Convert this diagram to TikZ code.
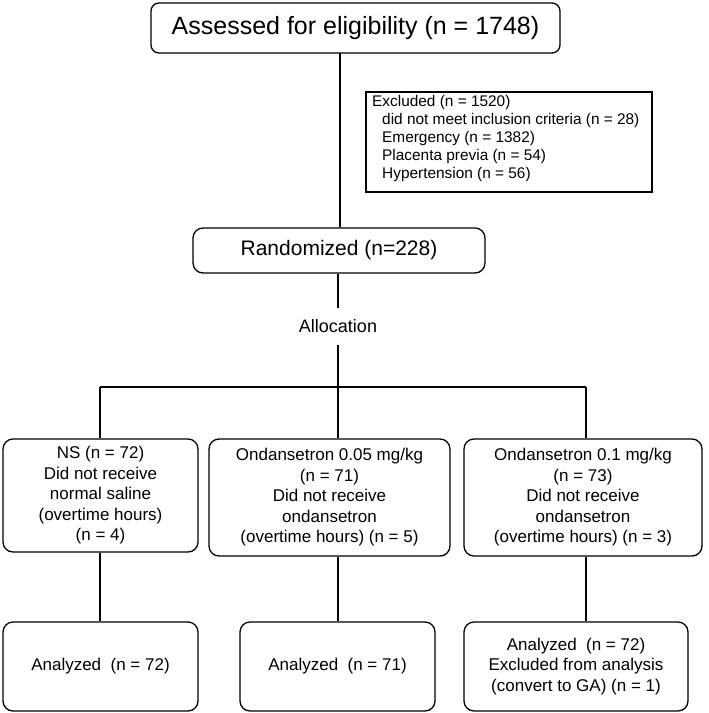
\documentclass[tikz,border=0pt]{standalone}
\usepackage{fontspec}
\setmainfont{Liberation Sans}
\begin{document}
\begin{tikzpicture}[x=1pt,y=-1pt,
  rbox/.style={draw, line width=1.3pt, rounded corners=10pt, align=center, inner sep=0pt},
  ln/.style={line width=1.3pt},
  midtxt/.style={font=\fontsize{17}{20.5}\selectfont}]
\useasboundingbox (0,0) rectangle (709,713);
% top
\node[rbox, rounded corners=8pt, minimum width=409pt, minimum height=50pt, font=\fontsize{25}{30}\selectfont] (top) at (355.5,28) {Assessed for eligibility (n = 1748)};
% excluded
\node[draw, line width=1.3pt, minimum width=286pt, minimum height=100pt, inner sep=0pt] (exc) at (509,142) {};
\node[anchor=north west, inner sep=0pt, align=left, font=\fontsize{15.4}{18}\selectfont] (exctxt) at (372,95) {Excluded (n = 1520)\\
\hspace*{10pt}did not meet inclusion criteria (n = 28)\\
\hspace*{10pt}Emergency (n = 1382)\\
\hspace*{10pt}Placenta previa (n = 54)\\
\hspace*{10pt}Hypertension (n = 56)};
% randomized
\node[rbox, minimum width=292pt, minimum height=45pt, font=\fontsize{21}{25}\selectfont] (rand) at (339,250.5) {Randomized (n=228)};
\coordinate (tl) at (340,53);
\draw[ln] (tl) -- (tl |- rand.north);
% allocation
\node[inner sep=0pt, minimum height=37pt, font=\fontsize{18}{22}\selectfont] (alloc) at (338,326.5) {Allocation};
\coordinate (hm) at (338,387);
\coordinate (hl) at (100,387);
\coordinate (hr) at (586,387);
\draw[ln] (rand.south -| hm) -- (alloc.north);
\draw[ln] (alloc.south) -- (hm);
\draw[ln] (hl) -- (hr);
% middle boxes
\node[rbox, midtxt, minimum width=195pt, minimum height=113pt] (b1) at (100.5,495.5) {NS (n = 72)\\Did not receive\\normal saline\\(overtime hours)\\(n = 4)};
\node[rbox, midtxt, minimum width=241pt, minimum height=117pt] (b2) at (329.5,497.5) {Ondansetron 0.05 mg/kg\\(n = 71)\\Did not receive\\ondansetron\\(overtime hours) (n = 5)};
\node[rbox, midtxt, minimum width=238pt, minimum height=117pt] (b3) at (583,497.5) {Ondansetron 0.1 mg/kg\\(n = 73)\\Did not receive\\ondansetron\\(overtime hours) (n = 3)};
\draw[ln] (hl) -- (hl |- b1.north);
\draw[ln] (hm) -- (hm |- b2.north);
\draw[ln] (hr) -- (hr |- b3.north);
% bottom boxes
\node[rbox, midtxt, minimum width=195pt, minimum height=89pt] (a1) at (100.5,666.5) {Analyzed\ \ (n = 72)};
\node[rbox, midtxt, minimum width=195pt, minimum height=89pt] (a2) at (337.5,666.5) {Analyzed\ \ (n = 71)};
\node[rbox, midtxt, minimum width=224pt, minimum height=89pt] (a3) at (576,666.5) {Analyzed\ \ (n = 72)\\Excluded from analysis\\(convert to GA) (n = 1)};
\draw[ln] (b1.south -| hl) -- (a1.north -| hl);
\draw[ln] (b2.south -| hm) -- (a2.north -| hm);
\draw[ln] (b3.south -| hr) -- (a3.north -| hr);
\end{tikzpicture}
\end{document}
